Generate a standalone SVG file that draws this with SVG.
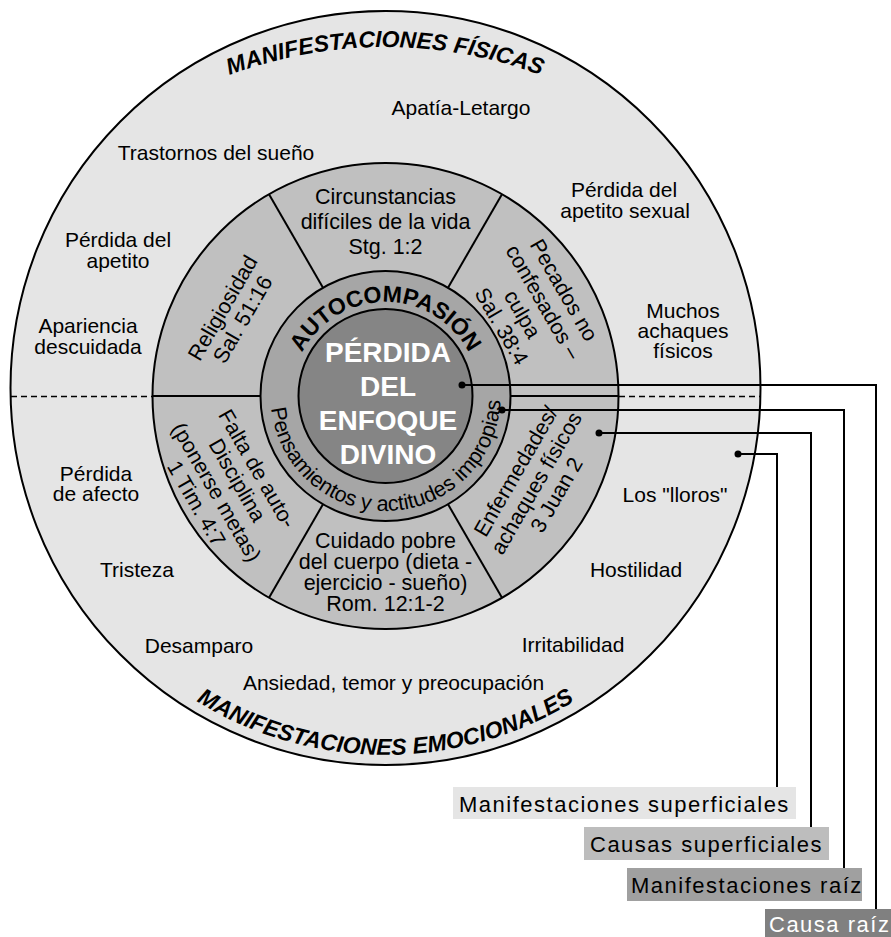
<svg xmlns="http://www.w3.org/2000/svg" width="891" height="937" viewBox="0 0 891 937">
<defs>
<style>
.t{font-family:"Liberation Sans",Arial,sans-serif;font-size:21px;fill:#000;text-anchor:middle}
.s{font-size:21.5px}
.h{font-family:"Liberation Sans",Arial,sans-serif;font-weight:bold;font-style:italic;font-size:23px;fill:#000}
.ab{font-family:"Liberation Sans",Arial,sans-serif;font-weight:bold;font-size:23px;fill:#000}
.pe{font-family:"Liberation Sans",Arial,sans-serif;font-size:21.5px;fill:#000}
.cw{font-family:"Liberation Sans",Arial,sans-serif;font-weight:bold;font-size:28px;fill:#fff;text-anchor:middle}
.ln{stroke:#000;stroke-width:2}
.dash{stroke:#000;stroke-width:1.5;stroke-dasharray:6 4}
.conn{fill:none;stroke:#000;stroke-width:2}
.dot{fill:#000}
.lab{font-family:"Liberation Sans",Arial,sans-serif;font-size:22px;letter-spacing:1.5px;fill:#000}
</style>
<path id="arcTop" d="M -58 490 A 443 443 0 0 1 828 490"/>
<path id="arcBottom" d="M 26.5 396 A 359 359 0 0 0 744.5 396"/>
<path id="arcAuto" d="M 291.5 396 A 94 94 0 0 1 479.5 396"/>
<path id="arcPens" d="M 272.25 376.03 A 115 115 0 1 0 498.75 376.03"/>
</defs>

<g id="outer-ring">
<ellipse cx="385.5" cy="388" rx="375" ry="377" fill="#e5e5e5" class="ln"/>
<line x1="11" y1="396.5" x2="152" y2="396.5" class="dash"/>
<line x1="619" y1="396.5" x2="760" y2="396.5" class="dash"/>
<text class="h"><textPath href="#arcTop" startOffset="50%" text-anchor="middle">MANIFESTACIONES FÍSICAS</textPath></text>
<text class="h"><textPath href="#arcBottom" startOffset="50%" text-anchor="middle">MANIFESTACIONES EMOCIONALES</textPath></text>
</g>

<g id="outer-labels">
<text class="t" x="461" y="115">Apatía-Letargo</text>
<text class="t" x="216" y="160">Trastornos del sueño</text>
<text class="t" x="118" y="247">Pérdida del</text>
<text class="t" x="118" y="268">apetito</text>
<text class="t" x="88" y="333">Apariencia</text>
<text class="t" x="88" y="354">descuidada</text>
<text class="t" x="624" y="197">Pérdida del</text>
<text class="t" x="625" y="218">apetito sexual</text>
<text class="t" x="683" y="318">Muchos</text>
<text class="t" x="683" y="338">achaques</text>
<text class="t" x="683" y="358">físicos</text>
<text class="t" x="96" y="481">Pérdida</text>
<text class="t" x="96" y="501">de afecto</text>
<text class="t" x="137" y="577">Tristeza</text>
<text class="t" x="199" y="653">Desamparo</text>
<text class="t" x="393.5" y="690">Ansiedad, temor y preocupación</text>
<text class="t" x="573" y="652">Irritabilidad</text>
<text class="t" x="636" y="577">Hostilidad</text>
<text class="t" x="675" y="502">Los "lloros"</text>
</g>

<g id="segment-ring">
<circle cx="385.5" cy="396" r="233" fill="#c0c0c0" class="ln"/>
<line x1="510.5" y1="396" x2="618.5" y2="396" class="ln"/>
<line x1="448" y1="287.75" x2="502" y2="194.2" class="ln"/>
<line x1="323" y1="287.75" x2="269" y2="194.2" class="ln"/>
<line x1="260.5" y1="396" x2="152.5" y2="396" class="ln"/>
<line x1="323" y1="504.25" x2="269" y2="597.8" class="ln"/>
<line x1="448" y1="504.25" x2="502" y2="597.8" class="ln"/>
</g>

<g id="seg-circunstancias">
<text class="t s" x="385.5" y="204">Circunstancias</text>
<text class="t s" x="385.5" y="229">difíciles de la vida</text>
<text class="t s" x="385.5" y="254">Stg. 1:2</text>
</g>
<g id="seg-pecados" transform="translate(533,308) rotate(60)">
<text class="t s" x="0" y="-28.5">Pecados no</text>
<text class="t s" x="0" y="-4.5">confesados –</text>
<text class="t s" x="0" y="19.5">culpa</text>
<text class="t s" x="0" y="43.5">Sal. 38:4</text>
</g>
<g id="seg-enfermedades" transform="translate(536,483) rotate(-60)">
<text class="t s" x="0" y="-16">Enfermedades/</text>
<text class="t s" x="0" y="7.5">achaques físicos</text>
<text class="t s" x="0" y="31">3 Juan 2</text>
</g>
<g id="seg-cuidado">
<text class="t s" x="385.5" y="548">Cuidado pobre</text>
<text class="t s" x="385.5" y="569">del cuerpo (dieta -</text>
<text class="t s" x="385.5" y="590">ejercicio - sueño)</text>
<text class="t s" x="385.5" y="611">Rom. 12:1-2</text>
</g>
<g id="seg-falta" transform="translate(227,486) rotate(60)">
<text class="t s" x="0" y="-27.5">Falta de auto-</text>
<text class="t s" x="0" y="-4.5">Disciplina</text>
<text class="t s" x="0" y="19.5">(ponerse metas)</text>
<text class="t s" x="0" y="42.5">1 Tim. 4:7</text>
</g>
<g id="seg-religiosidad" transform="translate(232.5,313.5) rotate(-60)">
<text class="t s" x="0" y="-4">Religiosidad</text>
<text class="t s" x="0" y="19">Sal. 51:16</text>
</g>

<g id="inner-ring">
<circle cx="385.5" cy="396" r="125" fill="#a6a6a6" class="ln"/>
<text class="ab"><textPath href="#arcAuto" startOffset="50%" text-anchor="middle">AUTOCOMPASIÓN</textPath></text>
<text class="pe"><textPath href="#arcPens" startOffset="51%" text-anchor="middle">Pensamientos y actitudes impropias</textPath></text>
</g>

<g id="center">
<circle cx="385.5" cy="396" r="87" fill="#858585" class="ln"/>
<text class="cw" x="388" y="362">PÉRDIDA</text>
<text class="cw" x="388" y="396">DEL</text>
<text class="cw" x="388" y="430">ENFOQUE</text>
<text class="cw" x="388" y="464">DIVINO</text>
</g>

<g id="connectors">
<path class="conn" d="M 462 385 H 876 V 909"/>
<path class="conn" d="M 502 410 H 844 V 868"/>
<path class="conn" d="M 599 433 H 811 V 827"/>
<path class="conn" d="M 738 454 H 777 V 787"/>
<circle class="dot" cx="462" cy="385" r="3.5"/>
<circle class="dot" cx="502" cy="410" r="3.5"/>
<circle class="dot" cx="599" cy="433" r="3.5"/>
<circle class="dot" cx="738" cy="454" r="3.5"/>
</g>

<g id="legend-manifestaciones-superficiales">
<rect x="453" y="787" width="343" height="32" fill="#e5e5e5"/>
<text class="lab" x="459" y="812">Manifestaciones superficiales</text>
</g>
<g id="legend-causas-superficiales">
<rect x="584" y="827" width="245" height="33" fill="#bdbdbd"/>
<text class="lab" x="590" y="852">Causas superficiales</text>
</g>
<g id="legend-manifestaciones-raiz">
<rect x="627" y="868" width="235" height="33" fill="#a0a0a0"/>
<text class="lab" x="631" y="893">Manifestaciones raíz</text>
</g>
<g id="legend-causa-raiz">
<rect x="765" y="909" width="126" height="28" fill="#808080"/>
<text class="lab" x="769" y="932" style="fill:#fff">Causa raíz</text>
</g>
</svg>
